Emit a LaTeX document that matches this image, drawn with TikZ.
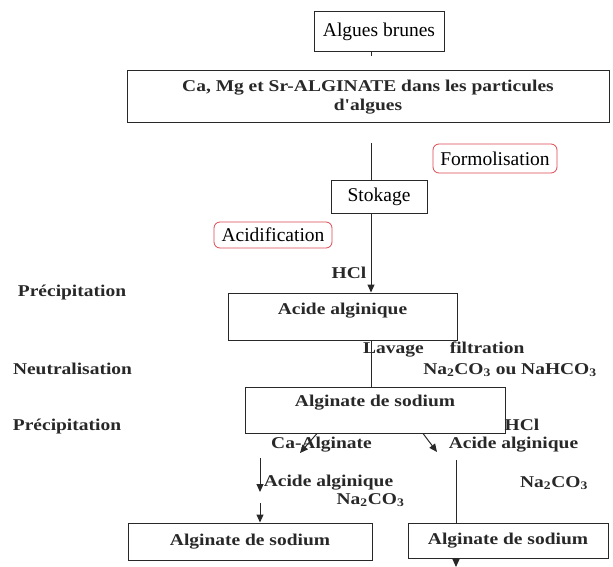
\documentclass[tikz,border=0pt]{standalone}
\usepackage{fontspec}
\setmainfont{Liberation Serif}
\newfontfamily\labfont[FakeStretch=1.18]{Liberation Serif}
\usepackage{tikz}
\usetikzlibrary{arrows.meta,positioning}
\definecolor{ink}{RGB}{40,40,40}
\definecolor{redline}{RGB}{222,72,82}
\tikzset{
  box/.style={draw=ink, line width=1pt, inner sep=0pt, text=ink,
    font=\labfont\bfseries\fontsize{16.5}{19}\selectfont},
  plainbox/.style={draw=ink, line width=1pt, inner sep=0pt,
    font=\fontsize{19.5}{22}\selectfont},
  redbox/.style={draw=redline, line width=0.8pt, rounded corners=6pt, inner sep=0pt,
    font=\fontsize{19.5}{22}\selectfont},
  lab/.style={inner sep=0pt, text=ink, font=\labfont\bfseries\fontsize{16.5}{19}\selectfont},
  link/.style={draw=ink, line width=1pt},
  arr/.style={link, -{Triangle[length=8pt,width=7pt]}}
}

\begin{document}
\begin{tikzpicture}[x=1pt,y=-1pt]
                \useasboundingbox (0,0) rectangle (613,567);
                % boxes
                \node[plainbox, minimum width=130pt, minimum height=40pt] (brunes) at (379,32) {Algues brunes};
                \node[box, minimum width=482pt, minimum height=52pt, align=center] (calg) at (368,97) {Ca, Mg et Sr-ALGINATE dans les particules\\d'algues};
                \node[plainbox, minimum width=96pt, minimum height=33pt] (stok) at (379,196.5) {Stokage};
                \node[redbox, minimum width=124pt, minimum height=29pt] (formol) at (495,158.5) {Formolisation};
                \node[redbox, minimum width=118pt, minimum height=26pt] (acidif) at (273,235) {Acidification};
                \node[box, minimum width=229pt, text height=21pt, text depth=26pt, anchor=base] (acide) at (342.5,314) {Acide alginique};
                \node[box, minimum width=260pt, text height=19pt, text depth=27pt, anchor=base] (sod) at (375,406) {Alginate de sodium};
                \node[box, minimum width=244pt, minimum height=37pt] (sodL) at (250,541.5) {Alginate de sodium};
                \node[box, minimum width=200pt, minimum height=35pt] (sodR) at (508,540.5) {Alginate de sodium};
                % side labels
                \node[lab] (prec1) at (72,293) {Précipitation};
                \node[lab] (neut) at (72.5,369) {Neutralisation};
                \node[lab] (prec2) at (67,427) {Précipitation};
                \node[lab] (hcl1) at (349,273) {HCl};
                \node[lab, anchor=west] (lav) at (363,350) {Lavage\hspace{26pt}filtration};
                \node[lab] (naco1) at (510,370) {Na\textsubscript{2}CO\textsubscript{3} ou NaHCO\textsubscript{3}};
                \node[lab] (hcl2) at (522,425) {HCl};
                \node[lab] (caalg) at (321.5,445) {Ca-Alginate};
                \node[lab] (acR) at (513.5,445) {Acide alginique};
                \node[lab] (acL) at (328.5,483) {Acide alginique};
                \node[lab] (naco2) at (370.5,500) {Na\textsubscript{2}CO\textsubscript{3}};
                \node[lab] (naco3) at (554,483) {Na\textsubscript{2}CO\textsubscript{3}};
                % main line
                \coordinate (tick) at (371,56);
                \coordinate (top) at (371,143);
                \draw[link] (tick |- brunes.south) -- (tick);
                \draw[link] (top) -- (top |- stok.north);
                \draw[arr] (top |- stok.south) -- (top |- acide.north);
                \draw[link] (top |- acide.south) -- (top |- sod.north);
                % branches
                \coordinate (ca) at (300,453);
                \coordinate (aa) at (437,452);
                \draw[arr] ([xshift=-58pt]sod.south) -- (ca);
                \draw[arr] ([xshift=48pt]sod.south) -- (aa);
                \coordinate (l1) at (260,458);
                \coordinate (l2) at (260,492);
                \coordinate (l3) at (260,503);
                \draw[arr] (l1) -- (l2);
                \draw[arr] (l3) -- (l3 |- sodL.north);
                \coordinate (r1) at (456,460);
                \coordinate (r2) at (456,567);
                \draw[link] (r1) -- (r1 |- sodR.north);
                \draw[arr] (r1 |- sodR.south) -- (r2);
            \end{tikzpicture}
\end{document}
